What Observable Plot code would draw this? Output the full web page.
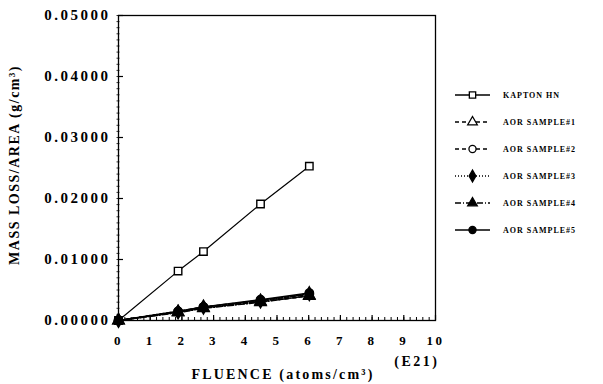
<!DOCTYPE html>
<html>
<head>
<meta charset="utf-8">
<script src="https://cdn.jsdelivr.net/npm/d3@7"></script>
<script src="https://cdn.jsdelivr.net/npm/@observablehq/plot@0.6"></script>
<style>
  html, body { margin: 0; padding: 0; background: #fff; }
  #chart { width: 603px; height: 384px; }
</style>
</head>
<body>
<div id="chart"></div>
<script>
// ---- data ----
const fluence = [0, 1.88, 2.68, 4.48, 6.02];           // E21 atoms/cm^2
const seriesNames = ["KAPTON HN", "AOR SAMPLE#1", "AOR SAMPLE#2", "AOR SAMPLE#3", "AOR SAMPLE#4", "AOR SAMPLE#5"];
const kapton  = [0, 0.0081, 0.0113, 0.0191, 0.0253];
const sample1 = [0, 0.0014, 0.0021, 0.0031, 0.0040];
const sample2 = [0, 0.0015, 0.0022, 0.0033, 0.0043];
const sample3 = [0, 0.0014, 0.0022, 0.0032, 0.0044];
const sample4 = [0, 0.0013, 0.0020, 0.0030, 0.0041];
const sample5 = [0, 0.0015, 0.0022, 0.0034, 0.0045];
const xTicks = [0, 1, 2, 3, 4, 5, 6, 7, 8, 9, 10];
const yTicks = [0, 0.01, 0.02, 0.03, 0.04, 0.05];
const xLabel = "FLUENCE (atoms/cm³)";
const yLabel = "MASS LOSS/AREA (g/cm³)";
const xUnit = "(E21)";

// ---- styles per series ----
const styles = [
  {dash: null,      symbol: "square",   fill: "white"},
  {dash: "4,3",     symbol: "triangle", fill: "white"},
  {dash: "4,3",     symbol: "circle",   fill: "white"},
  {dash: "1,2",     symbol: "diamond",  fill: "black"},
  {dash: "6,2,1,2", symbol: "triangle", fill: "black"},
  {dash: null,      symbol: "circle",   fill: "black"}
];
const allValues = [kapton, sample1, sample2, sample3, sample4, sample5];
const rows = allValues.map((vals, i) => fluence.map((f, j) => ({series: seriesNames[i], x: f, y: vals[j]})));

const minorX = d3.range(0, 10.001, 0.2);
const minorY = d3.range(0, 0.0501, 0.001);

const font = "'Liberation Serif', 'DejaVu Serif', serif";
const blank = () => "";

const marks = [
  Plot.frame({stroke: "black", strokeWidth: 1.3}),
  Plot.axisX({ticks: xTicks, tickFormat: d => d, tickSize: 0, tickPadding: 15, fontSize: 13, fontWeight: "bold", label: null}),
  Plot.axisX({ticks: minorX, tickSize: 3, dy: -3, strokeWidth: 1, tickFormat: blank, label: null}),
  Plot.axisX({ticks: xTicks, tickSize: 5, dy: -5, strokeWidth: 1.2, tickFormat: blank, label: null}),
  Plot.axisY({ticks: yTicks, tickFormat: d3.format(".5f"), tickSize: 0, tickPadding: 8, fontSize: 15, fontWeight: "bold", label: null}),
  Plot.axisY({ticks: minorY, tickSize: 3, dx: 1.5, strokeWidth: 0.8, tickFormat: blank, label: null}),
  Plot.axisY({ticks: yTicks, tickSize: 5, dx: 5, strokeWidth: 1.2, tickFormat: blank, label: null}),
  Plot.text([xUnit], {frameAnchor: "bottom-right", dy: 45, dx: 4, textAnchor: "end", fontSize: 14, fontWeight: "bold"}),
  Plot.text([xLabel], {frameAnchor: "bottom", dy: 58, dx: 6, textAnchor: "middle", fontSize: 14, fontWeight: "bold"}),
  Plot.text([yLabel], {frameAnchor: "left", dx: -104, dy: -3, textAnchor: "middle", rotate: -90, fontSize: 14, fontWeight: "bold"})
];
rows.forEach((r, i) => {
  const s = styles[i];
  marks.push(Plot.line(r, {x: "x", y: "y", stroke: "black", strokeWidth: i === 0 ? 1.2 : 1.6, strokeDasharray: s.dash}));
});
rows.forEach((r, i) => {
  const s = styles[i];
  marks.push(Plot.dot(r, {x: "x", y: "y", symbol: () => s.symbol, r: 4.2, fill: s.fill, stroke: "black", strokeWidth: 1.4}));
});

const chart = Plot.plot({
  width: 603,
  height: 384,
  marginLeft: 118,
  marginRight: 168,
  marginTop: 15,
  marginBottom: 64,
  x: {domain: [0, 10]},
  y: {domain: [0, 0.05]},
  style: {fontFamily: font, background: "white", color: "black", letterSpacing: "2.5px"},
  marks
});
document.getElementById("chart").appendChild(chart);

// y label letter spacing tighter than tick labels
d3.select(chart).selectAll("text").filter(function() { return this.textContent === yLabel; })
  .style("letter-spacing", "1.5px");
d3.select(chart).selectAll("text").filter(function() { return this.textContent === xLabel; })
  .style("letter-spacing", "2.2px");

// ---- legend (drawn into the same svg) ----
const svg = d3.select(chart);
const lg = svg.append("g").attr("transform", "translate(455,95)");
const symMap = {square: d3.symbolSquare, triangle: d3.symbolTriangle, circle: d3.symbolCircle, diamond: d3.symbolDiamond};
seriesNames.forEach((name, i) => {
  const s = styles[i];
  const g = lg.append("g").attr("transform", `translate(0,${i * 27})`);
  g.append("line").attr("x1", 0).attr("x2", 35).attr("y1", 0).attr("y2", 0)
    .attr("stroke", "black").attr("stroke-width", 1.5).attr("stroke-dasharray", s.dash);
  g.append("path").attr("transform", "translate(17.5,0)")
    .attr("d", d3.symbol(symMap[s.symbol], 40)())
    .attr("fill", s.fill).attr("stroke", "black").attr("stroke-width", 1.3);
  g.append("text").attr("x", 48).attr("y", 0).attr("dy", "0.35em")
    .attr("text-anchor", "start")
    .attr("font-size", 8).attr("font-weight", "bold").attr("letter-spacing", "1px")
    .attr("font-family", font).text(name);
});
</script>
</body>
</html>
